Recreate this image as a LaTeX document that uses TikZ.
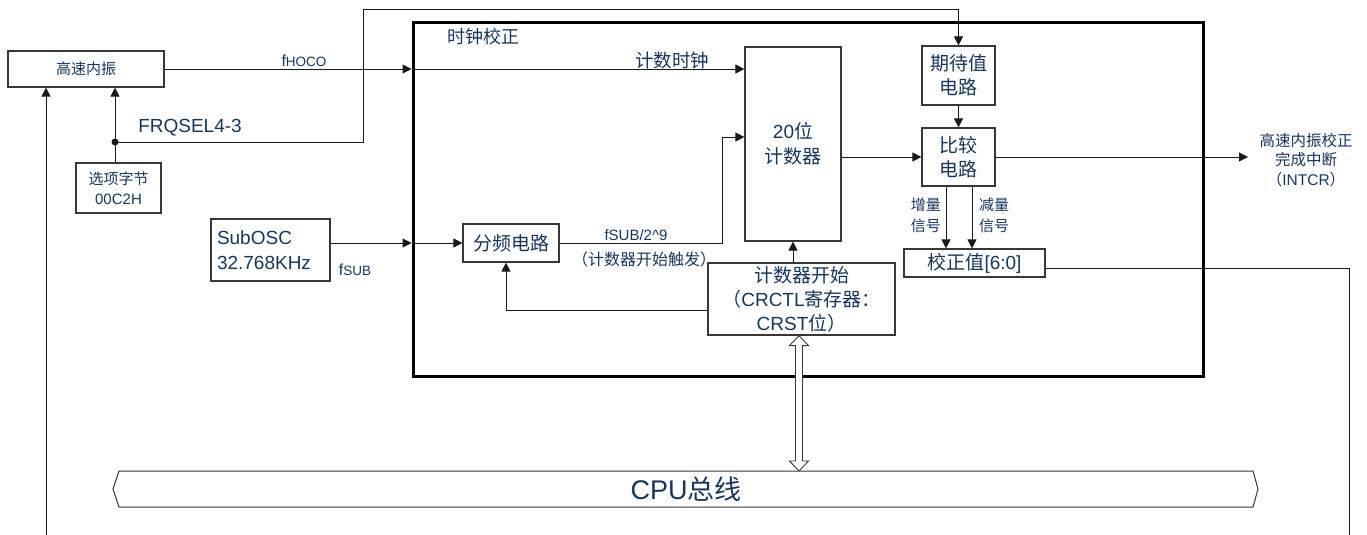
\documentclass[tikz,border=0pt]{standalone}
\usepackage{fontspec}
\setmainfont{Liberation Sans}
\newfontfamily\cjk{Noto Sans CJK SC}
\usetikzlibrary{arrows.meta,calc}
\definecolor{textc}{RGB}{23,54,93}
\definecolor{linec}{RGB}{25,25,25}
\definecolor{boxc}{RGB}{55,55,55}
\newcommand{\zh}[1]{{\cjk #1}}
\newcommand{\fsz}[2]{\fontsize{#1}{#2}\selectfont}
\begin{document}
\begin{tikzpicture}[x=1pt,y=-1pt,
  box/.style={draw=boxc, line width=1.2pt, inner sep=0pt, text=textc, align=center, fill=white},
  lbl/.style={text=textc, inner sep=0pt, align=center},
  arr/.style={draw=linec, line width=1pt, -{Triangle[length=9pt,width=9pt]}},
  wire/.style={draw=linec, line width=1pt}]
\useasboundingbox (0,0) rectangle (1367,535);

% frame of the clock correction block
\node[draw=black, line width=3pt, minimum width=790pt, minimum height=353pt, inner sep=0pt] (crc) at (808,199.5) {};
\node[lbl, font=\fsz{18}{22}] (crclbl) at (483,37) {\zh{时钟校正}};

% blocks
\node[box, minimum width=156pt, minimum height=36pt, font=\fsz{15}{18}] (hoco) at (86,69) {\zh{高速内振}};
\node[box, minimum width=85pt, minimum height=50pt, font=\fsz{15}{20}] (opt) at (118.5,188) {\zh{选项字节}\\00C2H};
\node[box, minimum width=119pt, minimum height=62pt, text width=107pt, align=left, font=\fsz{19}{25}] (sub) at (270.5,250) {SubOSC\\32.768KHz};
\node[box, minimum width=96pt, minimum height=38pt, font=\fsz{19}{24}] (div) at (511,243) {\zh{分频电路}};
\node[box, minimum width=96pt, minimum height=194pt, font=\fsz{19}{25}] (cnt) at (793,144) {20\zh{位}\\\zh{计数器}};
\node[box, minimum width=73pt, minimum height=59pt, font=\fsz{19}{24}] (exp) at (958.5,75.5) {\zh{期待值}\\\zh{电路}};
\node[box, minimum width=73pt, minimum height=58pt, font=\fsz{19}{24}] (cmp) at (958.5,157) {\zh{比较}\\\zh{电路}};
\node[box, minimum width=141pt, minimum height=28pt, font=\fsz{19}{22}] (cal) at (974.5,263) {\zh{校正值}[6:0]};
\node[box, minimum width=187pt, minimum height=72pt, font=\fsz{19}{24}] (start) at (801.5,299) {\zh{计数器开始}\\\zh{（}CRCTL\zh{寄存器：}\\CRST\zh{位）}};
\node[lbl, font=\fsz{15.5}{19.5}] (intr) at (1306,160) {\zh{高速内振校正}\\\zh{完成中断}\\\zh{（}INTCR\zh{）}};

% labels
\node[lbl, font=\fsz{16}{18}] (lhoco) at (304,61) {f{\fsz{13.5}{16}HOCO}};
\node[lbl, font=\fsz{19}{22}] (lfrq) at (190,128) {FRQSEL4-3};
\node[lbl, font=\fsz{18.5}{22}] (lclk) at (672,60) {\zh{计数时钟}};
\node[lbl, font=\fsz{16}{18}] (lsub) at (355,270) {f{\fsz{13.5}{16}SUB}};
\node[lbl, font=\fsz{15}{18}] (ldiv) at (636,235) {fSUB/2\^{}9};
\node[lbl, font=\fsz{16}{18}] (ltrig) at (644,259) {\zh{（计数器开始触发）}};
\node[lbl, font=\fsz{15}{21}, anchor=east] (linc) at (941,215.5) {\zh{增量}\\\zh{信号}};
\node[lbl, font=\fsz{15}{21}, anchor=west] (ldec) at (979,215.5) {\zh{减量}\\\zh{信号}};

% CPU bus
\draw[draw=boxc, line width=1pt] (113,489) -- (119,471) -- (1253,471) -- (1258,489) -- (1253,507) -- (119,507) -- cycle;
\node[lbl, font=\fsz{27}{30}] (bus) at (686,489) {CPU\zh{总线}};

% helper coordinates
\coordinate (dot) at (115,142);
\coordinate (up) at (363,10);
\coordinate (k1) at (722,137);
\coordinate (oend) at (1248,157);
\coordinate (ix) at (946,0);
\coordinate (dx) at (972,0);
\coordinate (bl) at (46,535);
\coordinate (br) at (1349,535);

% connectors
\draw[arr] (hoco.east) -- (crc.west |- hoco.east);
\draw[arr] (crc.west |- hoco.east) -- (cnt.west |- hoco.east);
\draw[arr] (bl) -- (bl |- hoco.south);
\fill[linec] (dot) circle (3.5pt);
\draw[wire] (opt.north -| dot) -- (dot);
\draw[arr] (dot) -- (dot |- hoco.south);
\draw[arr] (dot) -| (up) -| (exp.north);
\draw[arr] (sub.east |- div.west) -- (crc.west |- div.west);
\draw[arr] (crc.west |- div.west) -- (div.west);
\draw[arr] (div.east) -| (k1) -- (cnt.west |- k1);
\draw[arr] (start.north -| cnt.south) -- (cnt.south);
\draw[arr] ([yshift=-11pt]start.west) -| ([xshift=-5pt]div.south);
\draw[arr] (exp.south) -- (cmp.north);
\draw[arr] (cnt.east |- cmp.west) -- (cmp.west);
\draw[arr] (cmp.east) -- (oend);
\draw[arr] (cmp.south -| ix) -- (cal.north -| ix);
\draw[arr] (cmp.south -| dx) -- (cal.north -| dx);
\draw[wire] ([yshift=-5pt]cal.east) -| (br);

% double arrow between start register and bus
\coordinate (da1) at ([xshift=-2.5pt]start.south);
\coordinate (da2) at (da1 |- 0,471);
\draw[draw=boxc, fill=white, line width=0.9pt] (da1) -- ++(9.5,10) -- ++(-6,0) -- ($(da2)+(3.5,-10)$) -- ++(6,0) -- (da2) -- ++(-9.5,-10) -- ++(6,0) -- ($(da1)+(-3.5,10)$) -- ++(-6,0) -- cycle;
\end{tikzpicture}
\end{document}
